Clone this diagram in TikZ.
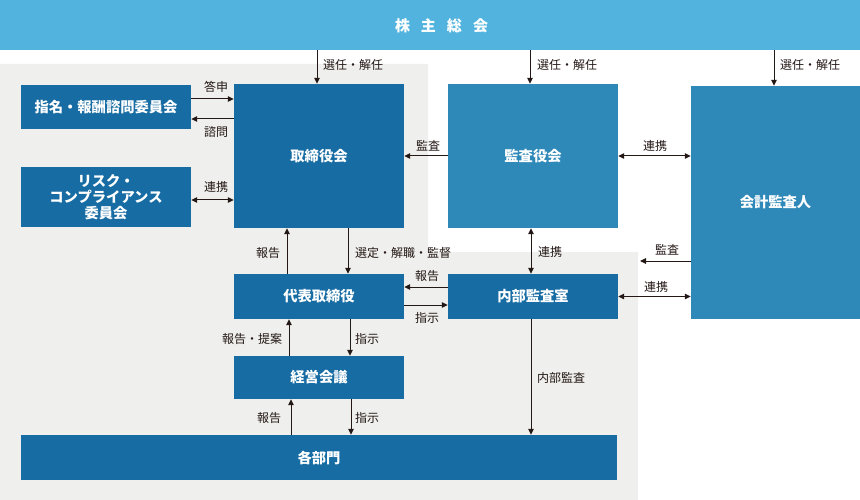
\documentclass[tikz,border=0pt]{standalone}
\usepackage{fontspec}
\setmainfont{Noto Sans CJK JP}
\usetikzlibrary{arrows.meta}
\definecolor{topblue}{HTML}{52B4DE}
\definecolor{darkbox}{HTML}{176CA3}
\definecolor{lightbox}{HTML}{2E89B9}
\definecolor{graybg}{HTML}{EFEFED}
\definecolor{inkc}{HTML}{231815}
\begin{document}
\begin{tikzpicture}[x=1pt,y=-1pt,
  box/.style={fill=darkbox,text=white,inner sep=0pt,align=center,
    font=\fontsize{14.3}{16}\selectfont\bfseries},
  lbox/.style={box,fill=lightbox},
  arr/.style={draw=inkc,line width=1pt,-{Triangle[length=6pt,width=5.5pt]}},
  darr/.style={draw=inkc,line width=1pt,{Triangle[length=6pt,width=5.5pt]}-{Triangle[length=6pt,width=5.5pt]}},
  lab/.style={text=inkc,inner sep=0pt,font=\fontsize{12}{14}\selectfont}]
\useasboundingbox (0,0) rectangle (860,500);
% gray background
\fill[graybg] (0,64) -- (428,64) -- (428,252) -- (638,252) -- (638,500) -- (0,500) -- cycle;
% boxes
\node[box,fill=topblue,minimum width=860pt,minimum height=50pt] (top) at (430,25) {};
\node[text=white,inner sep=0pt,font=\fontsize{15}{17}\selectfont\bfseries] (toptext) at (441.5,25.5) {株\hspace{11pt}主\hspace{11pt}総\hspace{11pt}会};
\node[box,minimum width=170pt,minimum height=44pt] (nom) at (106,107) {指名・報酬諮問委員会};
\node[box,minimum width=170pt,minimum height=60pt] (risk) at (106,197) {リスク・\\コンプライアンス\\委員会};
\node[box,minimum width=170pt,minimum height=144pt] (board) at (319,156) {取締役会};
\node[lbox,minimum width=170pt,minimum height=144pt] (kansa) at (533,156) {監査役会};
\node[lbox,minimum width=169pt,minimum height=233pt] (kaikei) at (775.5,202.5) {会計監査人};
\node[box,minimum width=170pt,minimum height=45pt] (ceo) at (319,296.5) {代表取締役};
\node[box,minimum width=170pt,minimum height=45pt] (naibu) at (533,296.5) {内部監査室};
\node[box,minimum width=170pt,minimum height=43pt] (keiei) at (319,377.5) {経営会議};
\node[box,minimum width=596pt,minimum height=45pt] (bumon) at (319,457.5) {各部門};
\coordinate (grayedge) at (640,261);
% arrows from top
\draw[arr] ([xshift=-2pt]board.north |- top.south) -- ([xshift=-2pt]board.north);
\draw[arr] ([xshift=-3pt]kansa.north |- top.south) -- ([xshift=-3pt]kansa.north);
\draw[arr] ([xshift=-1.5pt]kaikei.north |- top.south) -- ([xshift=-1.5pt]kaikei.north);
\node[lab,anchor=west] (l1) at (323,65) {選任・解任};
\node[lab,anchor=west] (l2) at (537,65) {選任・解任};
\node[lab,anchor=west] (l3) at (780,65) {選任・解任};
% committees
\draw[arr] ([yshift=8pt]nom.east) -- ([yshift=8pt]nom.east -| board.west);
\draw[arr] ([yshift=-12pt]nom.east -| board.west) -- ([yshift=-12pt]nom.east);
\draw[darr] ([yshift=-3pt]risk.east) -- ([yshift=-3pt]risk.east -| board.west);
\node[lab] (l4) at (216,87) {答申};
\node[lab] (l5) at (216,132) {諮問};
\node[lab] (l6) at (216,187) {連携};
% kansa
\draw[arr] (kansa.west) -- (kansa.west -| board.east);
\draw[darr] (kansa.east) -- (kansa.east -| kaikei.west);
\node[lab] (l7) at (428,146) {監査};
\node[lab] (l8) at (655,146) {連携};
% board - ceo
\draw[arr] ([xshift=-32pt]ceo.north) -- ([xshift=-32pt]ceo.north |- board.south);
\draw[arr] ([xshift=29pt]board.south) -- ([xshift=29pt]board.south |- ceo.north);
\node[lab] (l9) at (268,253) {報告};
\node[lab,anchor=west] (l10) at (355,253) {選定・解職・監督};
% ceo - naibu
\draw[arr] ([yshift=9.5pt]naibu.west) -- ([yshift=9.5pt]naibu.west -| ceo.east);
\draw[arr] ([yshift=-8.5pt]ceo.east) -- ([yshift=-8.5pt]ceo.east -| naibu.west);
\node[lab] (l11) at (427,276) {報告};
\node[lab] (l12) at (427,318) {指示};
% naibu - kansa
\draw[darr] ([xshift=-2pt]naibu.north) -- ([xshift=-2pt]naibu.north |- kansa.south);
\node[lab,anchor=west] (l13) at (538,252) {連携};
% kaikei
\draw[arr] (grayedge -| kaikei.west) -- (grayedge);
\node[lab] (l14) at (667,250) {監査};
\draw[darr] (naibu.east) -- (naibu.east -| kaikei.west);
\node[lab] (l15) at (656,287) {連携};
% ceo - keiei
\draw[arr] ([xshift=-30pt]keiei.north) -- ([xshift=-30pt]keiei.north |- ceo.south);
\draw[arr] ([xshift=31pt]ceo.south) -- ([xshift=31pt]ceo.south |- keiei.north);
\node[lab] (l16) at (252,339) {報告・提案};
\node[lab] (l17) at (367,339) {指示};
% keiei - bumon
\draw[arr] ([xshift=-28pt]bumon.north -| keiei.north) -- ([xshift=-28pt]keiei.south);
\draw[arr] ([xshift=32pt]keiei.south) -- ([xshift=32pt]keiei.south |- bumon.north);
\node[lab] (l18) at (269,418) {報告};
\node[lab] (l19) at (367,418) {指示};
% naibu - bumon
\draw[arr] ([xshift=-2pt]naibu.south) -- ([xshift=-2pt]naibu.south |- bumon.north);
\node[lab] (l20) at (561,378) {内部監査};
\end{tikzpicture}
\end{document}
